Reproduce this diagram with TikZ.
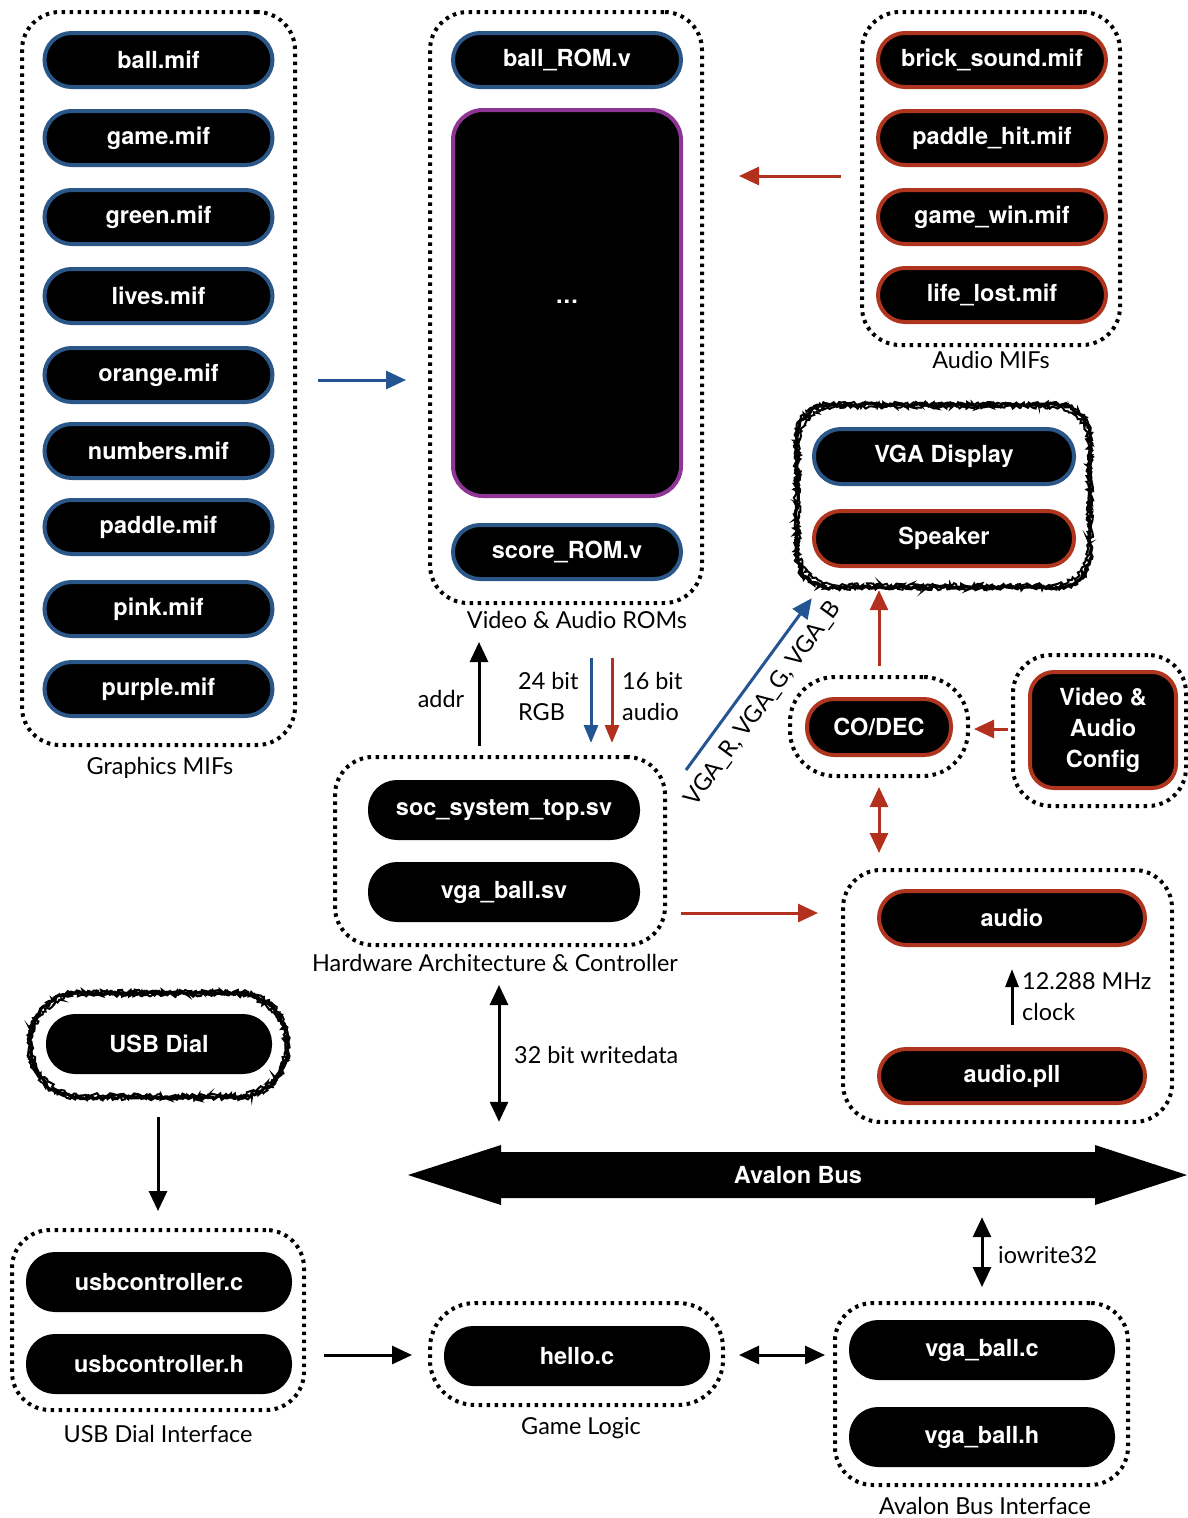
\documentclass[tikz,border=0pt]{standalone}
\usepackage{fontspec}
\setmainfont{Lato}
\newfontfamily\pillfont{TeX Gyre Heros}
\usetikzlibrary{arrows.meta,decorations.pathmorphing,calc}
\definecolor{bblue}{HTML}{2A5787}
\definecolor{bred}{HTML}{B0351F}
\definecolor{bpurple}{HTML}{8E3596}
\definecolor{ablue}{HTML}{245592}
\definecolor{ared}{HTML}{B3301E}
\begin{document}
\begin{tikzpicture}[x=1pt,y=-1pt,
  pill/.style={fill=black, draw=#1, line width=4pt, rounded corners=27pt, minimum width=228pt, minimum height=54pt, inner sep=0pt, text=white, font=\pillfont\bfseries\fontsize{23.5}{27}\selectfont},
  pill/.default=black,
  grp/.style={draw, line width=4pt, dash pattern=on 3.5pt off 4.5pt, rounded corners=38pt, inner sep=0pt},
  sketchA/.style={line width=3.2pt, decorate, decoration={random steps, segment length=2.5pt, amplitude=1.8pt}},
  sketchB/.style={line width=2pt, decorate, decoration={random steps, segment length=2pt, amplitude=2pt}},
  lbl/.style={font=\fontsize{23.4}{31}\selectfont, inner sep=0pt},
  tipB/.tip={Triangle[length=20pt,width=18pt]},
  tipS/.tip={Triangle[length=18pt,width=14pt]},
  arr/.style={line width=3pt, -tipB},
  darr/.style={line width=3pt, tipB-tipB},
  sarr/.style={line width=3pt, -tipS},
]
\useasboundingbox (0,0) rectangle (1188,1518);

% ---------- containers ----------
\node[grp, minimum width=273pt, minimum height=733pt] (gmif) at (158.5,378.5) {};
\node[grp, minimum width=272pt, minimum height=591pt] (roms) at (566,307.5) {};
\node[grp, minimum width=258pt, minimum height=333pt] (amif) at (991,178.5) {};
\node[grp, minimum width=178pt, minimum height=99pt, rounded corners=45pt] (codecg) at (879,726.5) {};
\node[grp, minimum width=173pt, minimum height=151pt] (cfgg) at (1099.5,730.5) {};
\node[grp, minimum width=329pt, minimum height=252pt] (audiog) at (1007.5,996) {};
\node[grp, minimum width=330pt, minimum height=188pt] (hw) at (500,851) {};
\node[grp, minimum width=292pt, minimum height=180pt] (usbif) at (158,1320) {};
\node[grp, minimum width=293pt, minimum height=102pt, rounded corners=45pt] (game) at (576.5,1354) {};
\node[grp, minimum width=293pt, minimum height=182pt] (avif) at (981.5,1394) {};
\node[minimum width=293pt, minimum height=182pt, inner sep=0pt] (vgag) at (943.5,496) {};
\node[minimum width=257pt, minimum height=104pt, inner sep=0pt] (usbdialg) at (158.5,1045) {};
\draw[sketchA] {[rounded corners=34pt] (vgag.north west) rectangle (vgag.south east)};
\draw[sketchB] {[rounded corners=36pt] ($(vgag.north west)+(2,2)$) rectangle ($(vgag.south east)+(-2,-2)$)};
\draw[sketchB] {[rounded corners=33pt] ($(vgag.north west)+(-1,-1)$) rectangle ($(vgag.south east)+(1,1)$)};
\draw[sketchA] {[rounded corners=50pt] (usbdialg.north west) rectangle (usbdialg.south east)};
\draw[sketchB] {[rounded corners=50pt] ($(usbdialg.north west)+(2,2)$) rectangle ($(usbdialg.south east)+(-2,-2)$)};
\draw[sketchB] {[rounded corners=50pt] ($(usbdialg.north west)+(-1,-1)$) rectangle ($(usbdialg.south east)+(1,1)$)};

% ---------- container labels ----------
\node[lbl] (gmifl) at (160,768) {Graphics MIFs};
\node[lbl] (romsl) at (577,620) {Video \& Audio ROMs};
\node[lbl] (amifl) at (991,360) {Audio MIFs};
\node[lbl] (hwl) at (495,963) {Hardware Architecture \& Controller};
\node[lbl] (usbifl) at (158,1434) {USB Dial Interface};
\node[lbl] (gamel) at (581,1428) {Game Logic};
\node[lbl] (avifl) at (985,1506) {Avalon Bus Interface};

% ---------- graphics MIFs ----------
\node[pill=bblue] (m1) at (158.5,60) {ball.mif};
\node[pill=bblue] (m2) at (158.5,138) {game.mif};
\node[pill=bblue] (m3) at (158.5,217) {green.mif};
\node[pill=bblue] (m4) at (158.5,296) {lives.mif};
\node[pill=bblue] (m5) at (158.5,375) {orange.mif};
\node[pill=bblue] (m6) at (158.5,451) {numbers.mif};
\node[pill=bblue] (m7) at (158.5,527) {paddle.mif};
\node[pill=bblue] (m8) at (158.5,609) {pink.mif};
\node[pill=bblue] (m9) at (158.5,689) {purple.mif};

% ---------- ROMs ----------
\node[pill=bblue] (r1) at (567,60) {ball\_ROM.v};
\node[pill=bpurple, minimum height=386pt, rounded corners=30pt] (rdots) at (567,303) {\raisebox{3pt}{.\kern1pt.\kern1pt.}};
\node[pill=bblue] (r2) at (567,552) {score\_ROM.v};

% ---------- audio MIFs ----------
\node[pill=bred] (a1) at (992,60) {brick\_sound.mif};
\node[pill=bred] (a2) at (992,138) {paddle\_hit.mif};
\node[pill=bred] (a3) at (992,217) {game\_win.mif};
\node[pill=bred] (a4) at (992,295) {life\_lost.mif};

% ---------- outputs ----------
\node[pill=bblue, minimum width=260pt, minimum height=55pt] (vga) at (944,456.5) {VGA Display};
\node[pill=bred, minimum width=260pt, minimum height=55pt] (spk) at (944,538.5) {Speaker};
\node[pill=bred, minimum width=144pt, minimum height=56pt] (codec) at (879,727) {CO/DEC};
\node[pill=bred, minimum width=146pt, minimum height=116pt, rounded corners=24pt, align=center, font=\pillfont\bfseries\fontsize{23.5}{31}\selectfont] (cfg) at (1103,730) {Video \&\\Audio\\Config};

% ---------- audio ----------
\node[pill=bred, minimum width=266pt] (audio) at (1012,918) {audio};
\node[pill=bred, minimum width=266pt] (apll) at (1012,1076) {audio.pll};

% ---------- hardware ----------
\node[pill, minimum width=268pt, minimum height=56pt] (soc) at (504,810) {soc\_system\_top.sv};
\node[pill, minimum width=268pt, minimum height=56pt] (vgasv) at (504,892) {vga\_ball.sv};

% ---------- software ----------
\node[pill, minimum width=222pt, minimum height=56pt] (usbdial) at (159,1044) {USB Dial};
\node[pill, minimum width=262pt, minimum height=56pt] (usbc) at (159,1282) {usbcontroller.c};
\node[pill, minimum width=262pt, minimum height=56pt] (usbh) at (159,1364) {usbcontroller.h};
\node[pill, minimum width=262pt, minimum height=56pt] (hello) at (577,1356) {hello.c};
\node[pill, minimum width=262pt, minimum height=56pt] (vbc) at (982,1350) {vga\_ball.c};
\node[pill, minimum width=262pt, minimum height=56pt] (vbh) at (982,1437) {vga\_ball.h};

% ---------- Avalon bus ----------
\fill (408,1175) -- (501,1145) -- (501,1152) -- (1095,1152) -- (1095,1145) -- (1187,1175)
  -- (1095,1205) -- (1095,1198) -- (501,1198) -- (501,1205) -- cycle;
\node[minimum height=46pt, inner sep=0pt, text=white, font=\pillfont\bfseries\fontsize{23.5}{27}\selectfont] (bus) at (798,1175) {Avalon Bus};

% ---------- connectors ----------
\draw[arr, ablue, shorten <=21pt, shorten >=22pt] (gmif.east |- 0,380) -- (roms.west |- 0,380);
\draw[arr, ared, shorten <=19pt, shorten >=35pt] (amif.west |- 0,176) -- (roms.east |- 0,176);
\draw[arr, ared, shorten <=9pt, shorten >=3pt] (codecg.north) -- (vgag.south -| codecg.north);
\draw[arr, ared, shorten <=3pt, shorten >=4pt] (cfgg.west |- 0,729) -- (codecg.east |- 0,729);
\draw[darr, ared, shorten <=9pt, shorten >=15pt] (codecg.south) -- (audiog.north -| codecg.south);
\draw[arr, ared, shorten <=14pt, shorten >=23pt] (hw.east |- 0,913) -- (audiog.west |- 0,913);
\draw[arr, shorten <=9pt, shorten >=37pt] (hw.north -| 479,0) -- (roms.south -| 479,0);
\draw[sarr, ablue, shorten <=53pt, shorten >=12pt] (roms.south -| 591,0) -- (hw.north -| 591,0);
\draw[sarr, ared, shorten <=53pt, shorten >=12pt] (roms.south -| 612,0) -- (hw.north -| 612,0);
\draw[arr, ablue] ($(hw.north east)+(19,15)$) -- ($(vgag.south west)+(15,11)$);
\draw[line width=3pt, -{Triangle[length=18pt,width=13pt]}, shorten <=22pt, shorten >=22pt] (apll.north) -- (audio.south);
\draw[darr, shorten <=38pt, shorten >=30pt] (hw.south -| 499,0) -- (bus.north -| 499,0);
\draw[darr, shorten <=19pt, shorten >=14pt] (bus.south -| 982,0) -- (avif.north -| 982,0);
\draw[arr, shorten <=20pt, shorten >=17pt] (usbdialg.south -| 158,0) -- (usbif.north -| 158,0);
\draw[arr, shorten <=18pt, shorten >=16pt] (usbif.east |- 0,1355) -- (game.west |- 0,1355);
\draw[darr, shorten <=14pt, shorten >=8pt] (game.east |- 0,1355) -- (avif.west |- 0,1355);

% ---------- connector labels ----------
\node[lbl] (addrl) at (441,699) {addr};
\node[lbl, anchor=west, align=left] (rgbl) at (518,696) {24 bit\\RGB};
\node[lbl, anchor=west, align=left] (audl) at (622,696) {16 bit\\audio};
\node[lbl, rotate=53.7] (vgal) at (763,704) {VGA\_R, VGA\_G, VGA\_B};
\node[lbl, anchor=west, align=left] (clkl) at (1022,997) {12.288 MHz\\clock};
\node[lbl, anchor=west] (wdl) at (514,1055) {32 bit writedata};
\node[lbl, anchor=west] (iowl) at (998,1255) {iowrite32};
\end{tikzpicture}
\end{document}
